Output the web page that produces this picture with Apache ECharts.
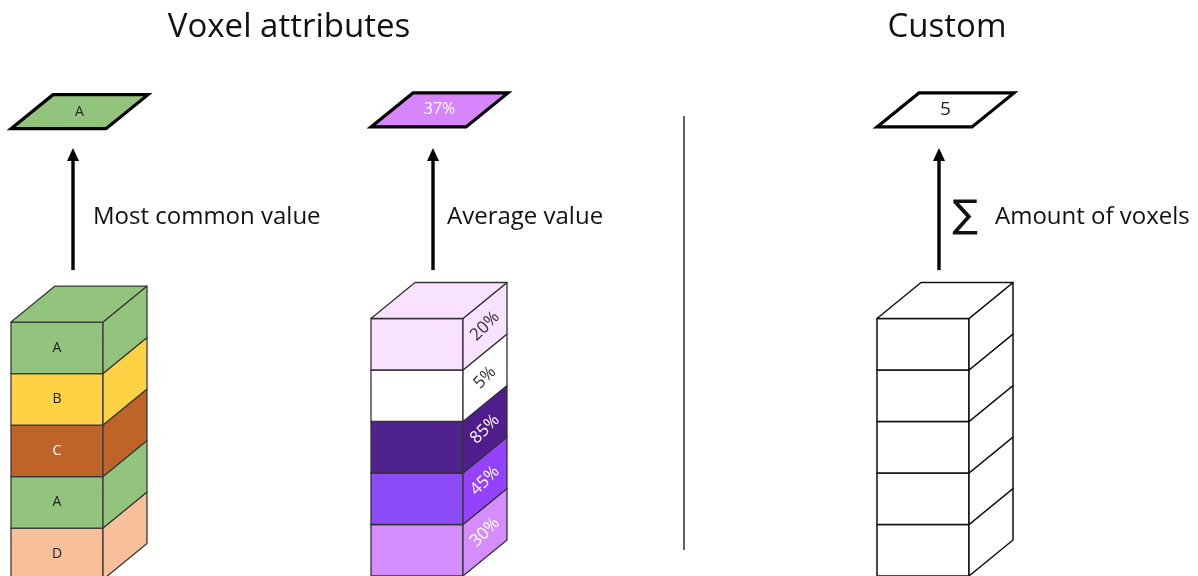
<!DOCTYPE html>
<html>
<head>
<meta charset="utf-8">
<script src="https://cdn.jsdelivr.net/npm/echarts@6/dist/echarts.min.js"></script>
<style>
  html, body { margin: 0; padding: 0; background: #fff; }
  #chart { width: 1198px; height: 576px; }
</style>
</head>
<body>
<div id="chart"></div>
<script>
// voxel values of each column, listed from the bottom layer up
const commonValues = ["D", "A", "C", "B", "A"];
const percentValues = [30, 45, 85, 5, 20];
const customVoxels = [1, 1, 1, 1, 1];
const results = ["A", "37%", "5"];
const methods = ["Most common value", "Average value", "Amount of voxels"];
const panelTitles = ["Voxel attributes", "Custom"];

// colours
const letterFill = { A: "#93c47d", B: "#ffd145", C: "#bf6428", D: "#f8bf9b" };
const letterText = { A: "#222", B: "#222", C: "#fff", D: "#222" };
const percentFill = { 30: "#d58cfc", 45: "#8b4cf8", 85: "#4f2290", 5: "#ffffff", 20: "#f8e2ff" };
const percentSide = { 30: "#d58cfc", 45: "#9442ff", 85: "#4f1d8c", 5: "#ffffff", 20: "#f8e2ff" };
const percentText = { 30: "#fff", 45: "#fff", 85: "#fff", 5: "#333", 20: "#333" };
const resultFill = ["#93c47d", "#d685fd", "#ffffff"];
const resultText = ["#222", "#fff", "#222"];
const resultFont = [14, 16, 19];
const stackStroke = ["#3a3a3a", "#333", "#111"];

// layout: x axis in pixels, y axis in voxel layers
const stackX = [11, 371, 877];
const stackDrop = [0.07, 0, 0];
const FACE_W = 92;
const DEPTH_X = 44;
const DEPTH_Y = 36;
const LAYER_PX = 51.5;
const FONT = "'Open Sans', 'Liberation Sans', sans-serif";

const voxelData = [];
commonValues.forEach((v, i) => {
  voxelData.push({ value: [0, i], front: v, side: "", fill: letterFill[v], sideFill: letterFill[v], text: letterText[v] });
});
percentValues.forEach((v, i) => {
  voxelData.push({ value: [1, i], front: "", side: v + "%", fill: percentFill[v], sideFill: percentSide[v], text: percentText[v] });
});
customVoxels.forEach((v, i) => {
  voxelData.push({ value: [2, i], front: "", side: "", fill: "#fff", sideFill: "#fff", text: "#222" });
});

function renderVoxel(params, api) {
  const item = voxelData[params.dataIndex];
  const col = api.value(0);
  const layer = api.value(1);
  const base = api.coord([stackX[col], layer - stackDrop[col]]);
  const top = api.coord([stackX[col], layer + 1 - stackDrop[col]]);
  const x0 = base[0], x1 = x0 + FACE_W, yb = base[1], yt = top[1];
  const stroke = stackStroke[col];
  const lw = col === 2 ? 1.5 : 1.3;
  const children = [
    {
      type: "rect",
      shape: { x: x0, y: yt, width: FACE_W, height: yb - yt },
      style: { fill: item.fill, stroke: stroke, lineWidth: lw },
    },
    {
      type: "polygon",
      shape: { points: [[x1, yt], [x1 + DEPTH_X, yt - DEPTH_Y], [x1 + DEPTH_X, yb - DEPTH_Y], [x1, yb]] },
      style: { fill: item.sideFill, stroke: stroke, lineWidth: lw, lineJoin: "round" },
    },
  ];
  if (layer === 4) {
    children.push({
      type: "polygon",
      shape: { points: [[x0, yt], [x0 + DEPTH_X, yt - DEPTH_Y], [x1 + DEPTH_X, yt - DEPTH_Y], [x1, yt]] },
      style: { fill: item.fill, stroke: stroke, lineWidth: lw, lineJoin: "round" },
    });
  }
  if (item.front) {
    children.push({
      type: "text",
      x: x0 + FACE_W / 2,
      y: (yt + yb) / 2,
      style: { text: item.front, fill: item.text, font: "14px " + FONT, align: "center", verticalAlign: "middle" },
    });
  }
  if (item.side) {
    children.push({
      type: "text",
      x: x1 + DEPTH_X / 2,
      y: (yt + yb) / 2 - DEPTH_Y / 2,
      rotation: 0.78,
      style: { text: item.side, fill: item.text, font: "17px " + FONT, align: "center", verticalAlign: "middle" },
    });
  }
  return { type: "group", children: children };
}

// arrow and result tile positions, in voxel layers
const ARROW_FROM = 5.94;
const ARROW_TO = 8.31;
const RESULT_BASE = 8.72;
const labelOffset = [20, 14, 56];

function renderResult(params, api) {
  const col = api.value(0);
  const x0 = stackX[col];
  const ax = x0 + 62;
  const yFrom = api.coord([ax, ARROW_FROM])[1];
  const yTo = api.coord([ax, ARROW_TO])[1];
  const yBase = api.coord([x0, RESULT_BASE - stackDrop[col] / 2])[1];
  const midY = (yFrom + yTo) / 2 + 8;
  const w = 95, skew = 42, h = 34;
  const children = [
    {
      type: "line",
      shape: { x1: ax, y1: yFrom, x2: ax, y2: yTo + 10 },
      style: { stroke: "#000", lineWidth: 3.4 },
    },
    {
      type: "polygon",
      shape: { points: [[ax, yTo], [ax - 6, yTo + 13], [ax + 6, yTo + 13]] },
      style: { fill: "#000" },
    },
    {
      type: "polygon",
      shape: { points: [[x0, yBase], [x0 + skew, yBase - h], [x0 + skew + w, yBase - h], [x0 + w, yBase]] },
      style: { fill: resultFill[col], stroke: "#000", lineWidth: 3.2, lineJoin: "miter" },
    },
    {
      type: "text",
      x: x0 + (w + skew) / 2,
      y: yBase - h / 2,
      style: {
        text: results[params.dataIndex],
        fill: resultText[col],
        font: resultFont[col] + "px " + FONT,
        align: "center",
        verticalAlign: "middle",
      },
    },
    {
      type: "text",
      x: ax + labelOffset[col],
      y: midY,
      style: { text: methods[col], fill: "#111", font: "24px " + FONT, align: "left", verticalAlign: "middle" },
    },
  ];
  if (col === 2) {
    children.push({
      type: "text",
      x: ax + 26,
      y: midY,
      style: { text: "\u2211", fill: "#111", font: "38px 'DejaVu Sans'", align: "center", verticalAlign: "middle" },
    });
  }
  return { type: "group", children: children };
}

const chart = echarts.init(document.getElementById("chart"));
chart.setOption({
  animation: false,
  grid: { left: 0, right: 0, top: 0, bottom: 0 },
  xAxis: { type: "value", min: 0, max: 1198, show: false },
  yAxis: { type: "value", min: 0, max: 576 / LAYER_PX, show: false },
  graphic: [
    {
      type: "text",
      x: 289,
      y: 28,
      style: { text: panelTitles[0], fill: "#111", font: "33px " + FONT, align: "center", verticalAlign: "middle" },
    },
    {
      type: "text",
      x: 947,
      y: 28,
      style: { text: panelTitles[1], fill: "#111", font: "33px " + FONT, align: "center", verticalAlign: "middle" },
    },
    {
      type: "line",
      shape: { x1: 684, y1: 116, x2: 684, y2: 550 },
      style: { stroke: "#111", lineWidth: 1.3 },
    },
  ],
  series: [
    {
      type: "custom",
      renderItem: renderVoxel,
      data: voxelData,
      silent: true,
    },
    {
      type: "custom",
      renderItem: renderResult,
      data: results.map((r, i) => [i, i]),
      silent: true,
    },
  ],
});
</script>
</body>
</html>
